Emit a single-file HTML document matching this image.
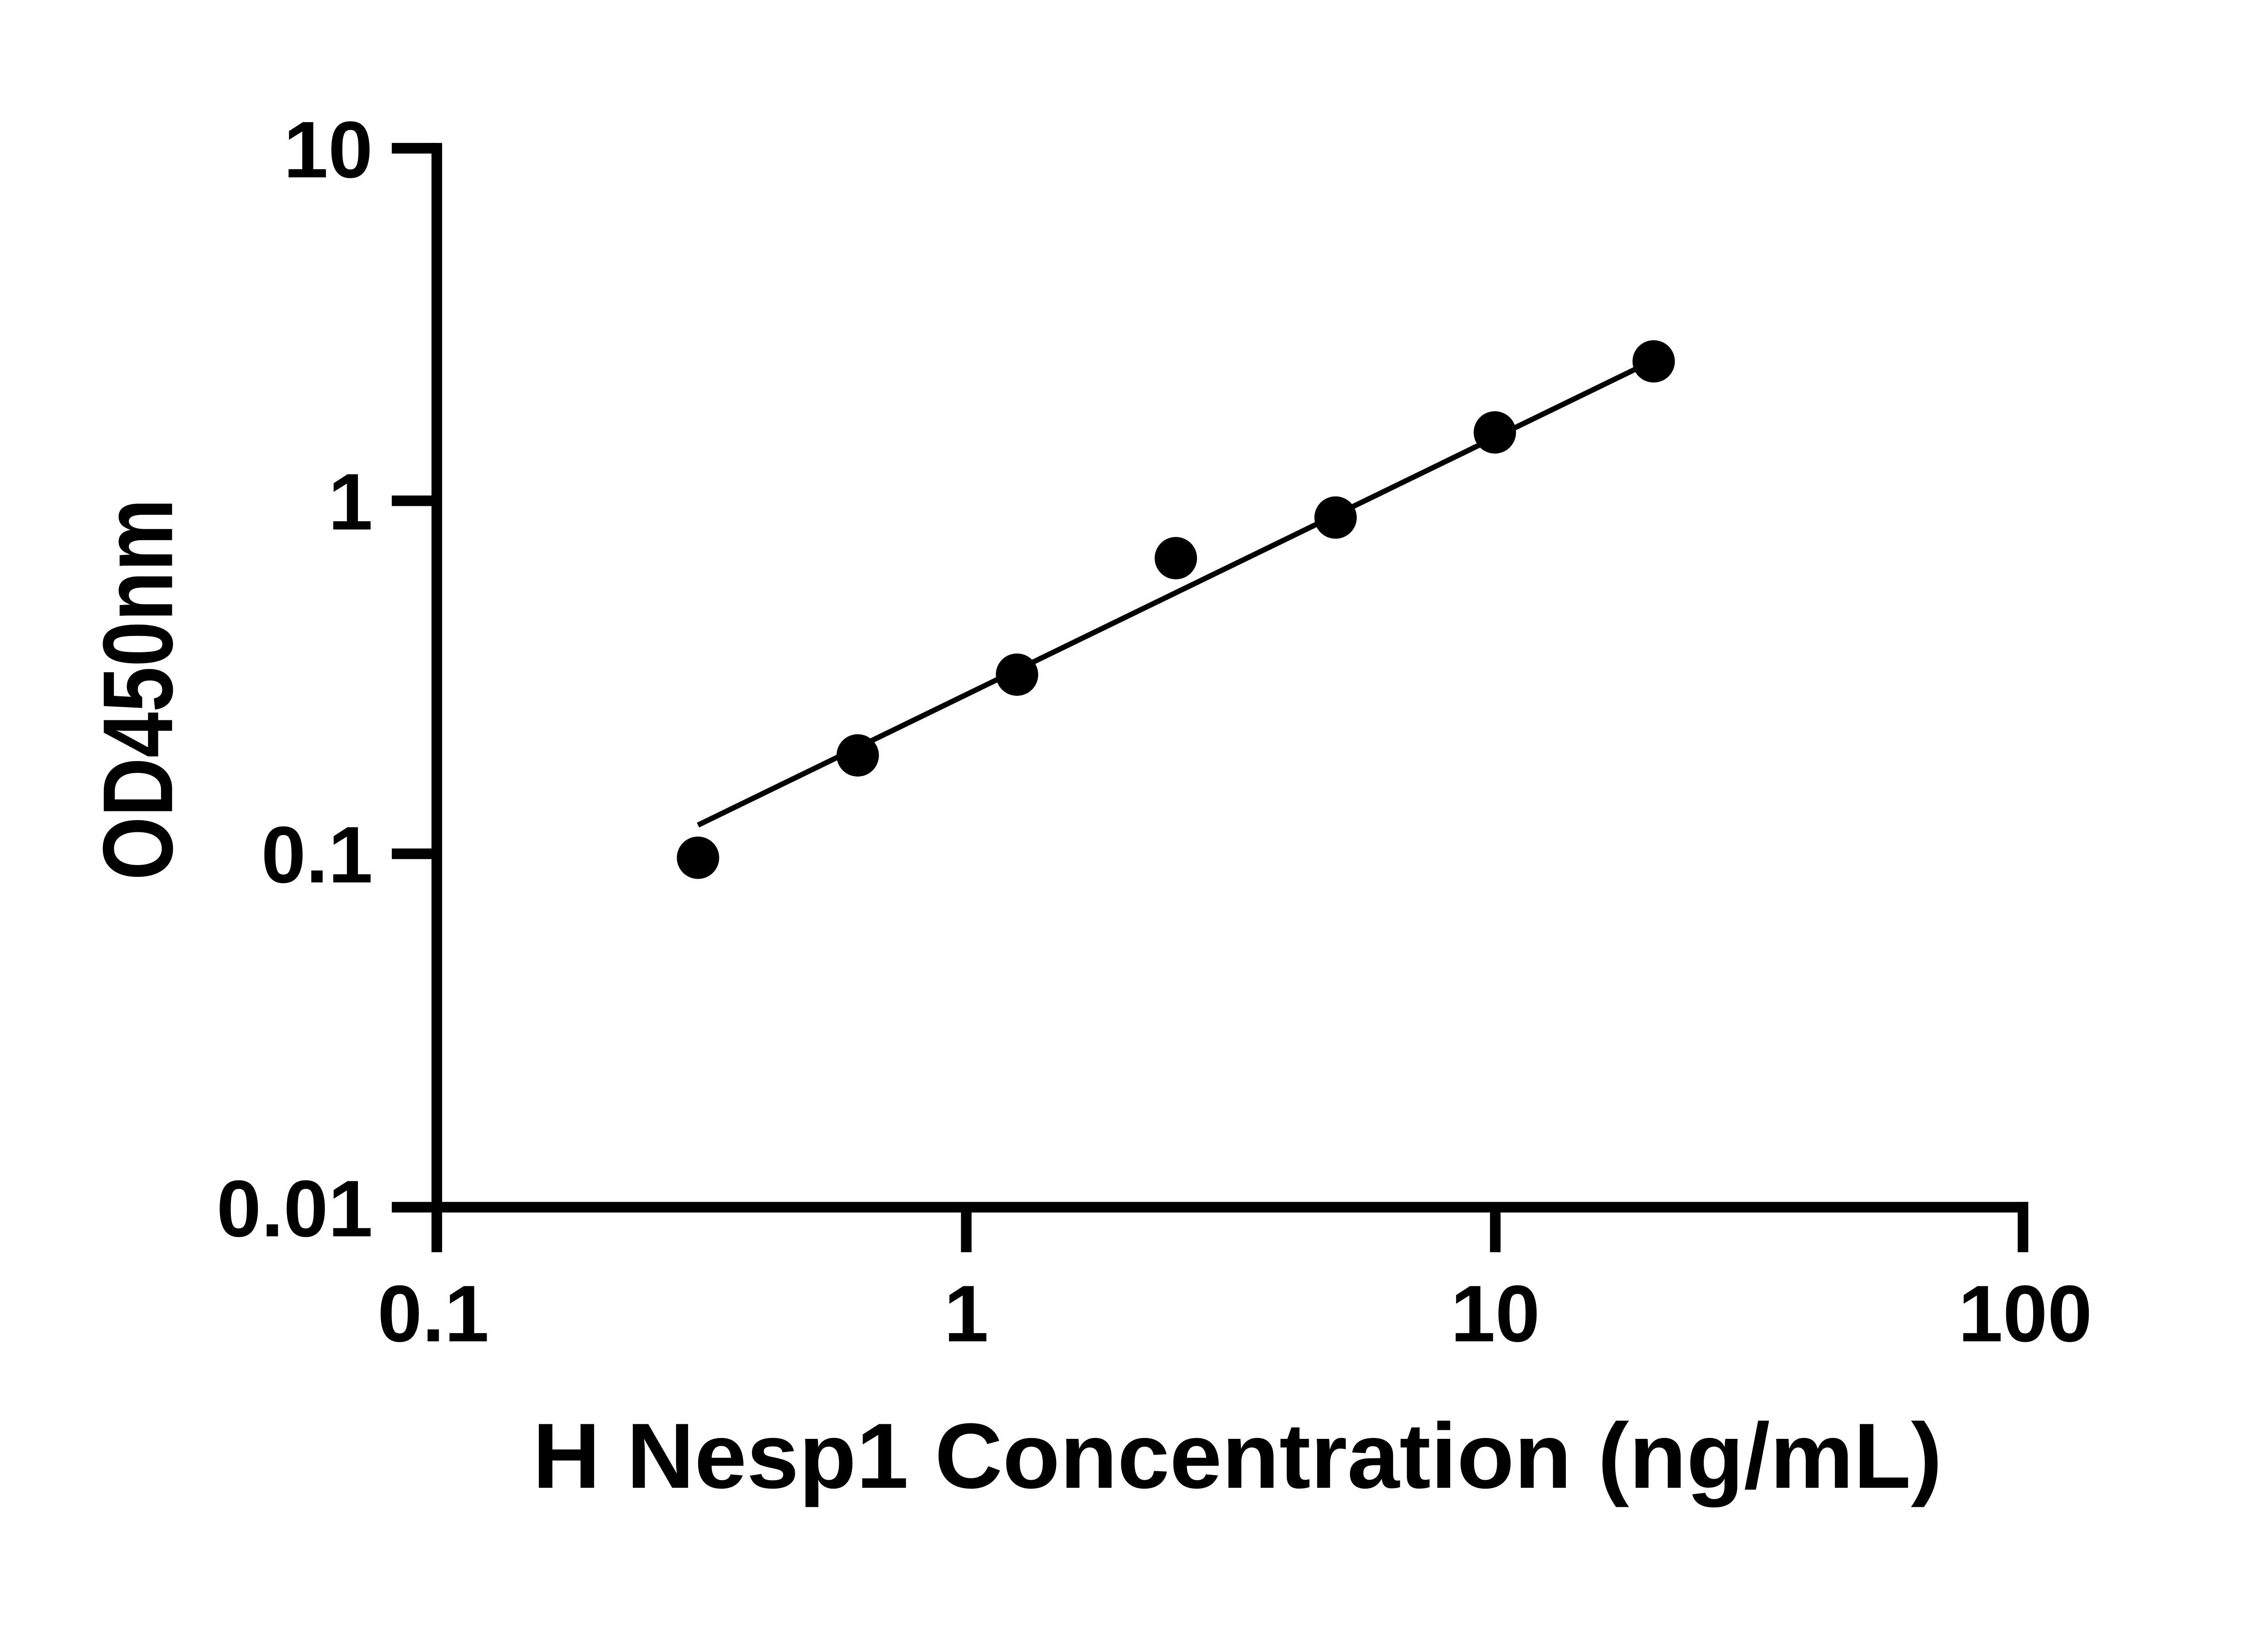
<!DOCTYPE html>
<html><head><meta charset="utf-8"><style>html,body{margin:0;padding:0;background:#fff}svg{display:block}</style></head>
<body>
<svg width="5142" height="3600" viewBox="0 0 5142 3600" xmlns="http://www.w3.org/2000/svg">
<rect width="5142" height="3600" fill="#fff"/>
<g transform="scale(0.9727)">
<g stroke="#000" fill="none">
<line x1="990" y1="324" x2="990" y2="2838" stroke-width="24"/>
<line x1="888" y1="2736" x2="4597" y2="2736" stroke-width="24"/>
<line x1="888" y1="336" x2="990" y2="336" stroke-width="24"/>
<line x1="888" y1="1135" x2="990" y2="1135" stroke-width="24"/>
<line x1="888" y1="1935" x2="990" y2="1935" stroke-width="24"/>
<line x1="2190" y1="2736" x2="2190" y2="2838" stroke-width="24"/>
<line x1="3389" y1="2736" x2="3389" y2="2838" stroke-width="24"/>
<line x1="4585" y1="2724" x2="4585" y2="2838" stroke-width="24"/>
<line x1="1582" y1="1870" x2="3745" y2="818" stroke-width="12"/>
</g>
<g fill="#000">
<circle cx="1582" cy="1944" r="48"/>
<circle cx="1944" cy="1712" r="48"/>
<circle cx="2305" cy="1529" r="48"/>
<circle cx="2665" cy="1265" r="48"/>
<circle cx="3027" cy="1173" r="48"/>
<circle cx="3388" cy="980" r="48"/>
<circle cx="3748" cy="819" r="48"/>
</g>
<g font-family="Liberation Sans, sans-serif" font-weight="bold" font-size="182" fill="#000">
<text x="845" y="402" text-anchor="end">10</text>
<text x="845" y="1200" text-anchor="end">1</text>
<text x="845" y="2000" text-anchor="end">0.1</text>
<text x="845" y="2802" text-anchor="end">0.01</text>
<text x="982" y="3040" text-anchor="middle">0.1</text>
<text x="2190" y="3040" text-anchor="middle">1</text>
<text x="3389" y="3040" text-anchor="middle">10</text>
<text x="4590" y="3040" text-anchor="middle">100</text>
<text x="1207" y="3372" font-size="210" textLength="3195" lengthAdjust="spacingAndGlyphs">H Nesp1 Concentration (ng/mL)</text>
<text transform="translate(390,1995) rotate(-90)" font-size="225" textLength="865" lengthAdjust="spacingAndGlyphs">OD450nm</text>
</g>
</g>
</svg>
</body></html>
